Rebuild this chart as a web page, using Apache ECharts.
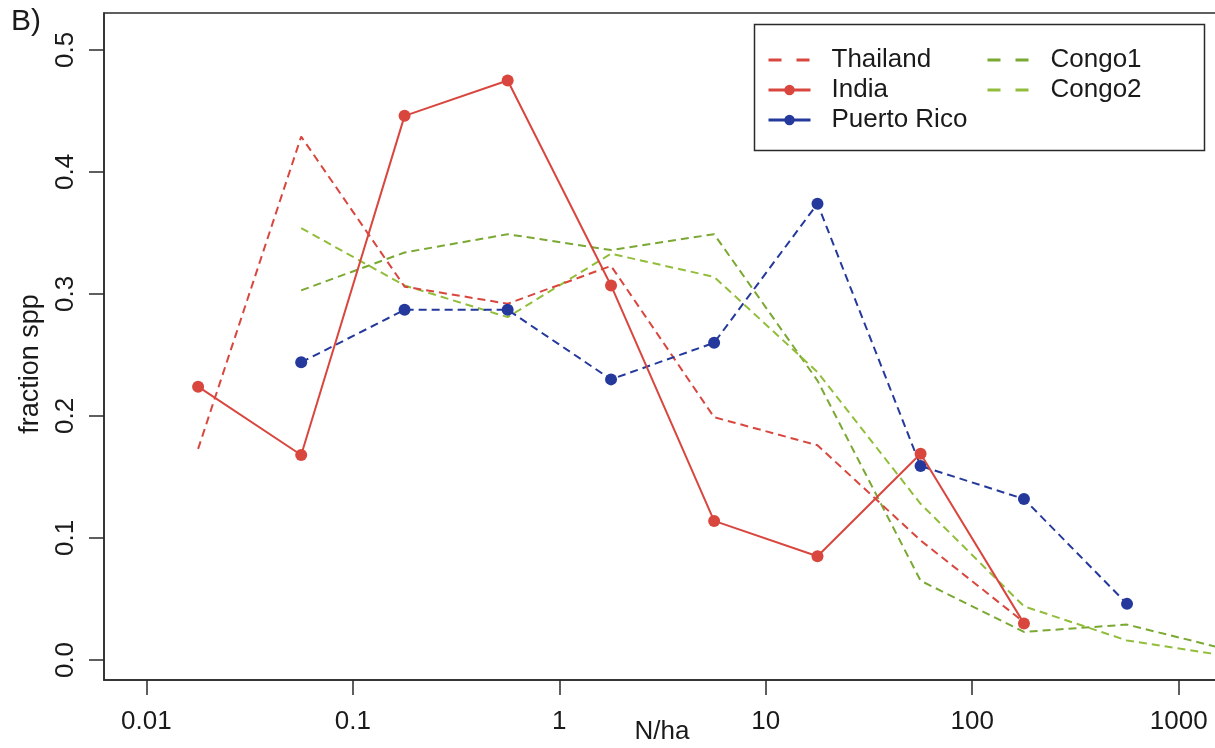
<!DOCTYPE html>
<html>
<head>
<meta charset="utf-8">
<title>fraction spp vs N/ha</title>
<script src="https://cdn.jsdelivr.net/npm/echarts@6/dist/echarts.min.js"></script>
<style>
html, body {
  width: 100%;
  height: 100%;
  padding: 0px;
  margin: 0px;
  background: #fff;
}
#chart {
  width: 1215px;
  height: 748px;
}
</style>
</head>
<body>
<div id="chart"></div>
<script>
// density bins (N/ha), half-decade steps
var nHa = [0.0178, 0.0562, 0.178, 0.562, 1.78, 5.62, 17.8, 56.2, 178, 562, 1778];

var thailand   = [0.173, 0.429, 0.306, 0.292, 0.323, 0.199, 0.176, 0.098, 0.031, null, null];
var india      = [0.224, 0.168, 0.446, 0.475, 0.307, 0.114, 0.085, 0.169, 0.030, null, null];
var puertoRico = [null, 0.244, 0.287, 0.287, 0.230, 0.260, 0.374, 0.159, 0.132, 0.046, null];
var congo1     = [null, 0.303, 0.334, 0.349, 0.336, 0.349, 0.229, 0.065, 0.023, 0.029, 0.008];
var congo2     = [null, 0.354, 0.307, 0.281, 0.333, 0.314, 0.236, 0.128, 0.044, 0.016, 0.003];

var xTicks = [0.01, 0.1, 1, 10, 100, 1000];
var yTicks = [0, 0.1, 0.2, 0.3, 0.4, 0.5];

var RED = '#d9463e';
var BLUE = '#24399b';
var GREEN1 = '#7aa832';
var GREEN2 = '#92bd3a';
var FONT = 'Liberation Sans, Arial, Helvetica, sans-serif';

function pairs(vals) {
  var out = [];
  for (var i = 0; i < vals.length; i++) {
    if (vals[i] != null) out.push([nHa[i], vals[i]]);
  }
  return out;
}

var chart = echarts.init(document.getElementById('chart'));

var legendText = { fontFamily: FONT, fontSize: 26, color: '#1a1a1a', lineHeight: 30, padding: [0, 0, 0, 16] };
// dashed entries: no dot in the legend icon
var dashedItem = { lineStyle: { type: [13, 15] }, itemStyle: { opacity: 0 } };

var option = {
  animation: false,
  backgroundColor: '#fff',
  grid: {
    left: 104,
    top: 13,
    right: -5,
    bottom: 68,
    outerBoundsMode: 'none',
    containLabel: false,
    show: true,
    borderColor: '#2a2a2a',
    borderWidth: 1.5,
    backgroundColor: 'transparent'
  },
  legend: [
    {
      orient: 'vertical',
      left: 762,
      top: 40,
      itemWidth: 42,
      itemHeight: 13,
      itemGap: 0,
      textStyle: legendText,
      lineStyle: { width: 3 },
      data: [
        Object.assign({ name: 'Thailand' }, dashedItem),
        { name: 'India' },
        { name: 'Puerto Rico', lineStyle: { type: 'solid' } }
      ]
    },
    {
      orient: 'vertical',
      left: 981,
      top: 40,
      itemWidth: 42,
      itemHeight: 13,
      itemGap: 0,
      textStyle: legendText,
      lineStyle: { width: 3 },
      data: [
        Object.assign({ name: 'Congo1' }, dashedItem),
        Object.assign({ name: 'Congo2' }, dashedItem)
      ]
    }
  ],
  xAxis: {
    type: 'log',
    logBase: 10,
    min: 0.006232,
    max: 1584.9,
    splitLine: { show: false },
    axisLine: { show: true, onZero: false, lineStyle: { color: '#2a2a2a', width: 1.5 } },
    axisTick: { show: true, length: 15, customValues: xTicks, lineStyle: { color: '#2a2a2a', width: 1.5 } },
    axisLabel: {
      customValues: xTicks,
      margin: 29,
      fontFamily: FONT,
      fontSize: 26,
      color: '#1a1a1a',
      formatter: function (v) { return String(Math.round(v * 100) / 100); }
    }
  },
  yAxis: {
    type: 'value',
    min: -0.0164,
    max: 0.5303,
    splitLine: { show: false },
    axisLine: { show: true, onZero: false, lineStyle: { color: '#2a2a2a', width: 1.5 } },
    axisTick: { show: true, length: 15, customValues: yTicks, lineStyle: { color: '#2a2a2a', width: 1.5 } },
    axisLabel: {
      customValues: yTicks,
      rotate: 90,
      margin: 25,
      fontFamily: FONT,
      fontSize: 26,
      color: '#1a1a1a',
      formatter: function (v) { return v.toFixed(1); }
    }
  },
  graphic: [
    {
      type: 'text',
      left: 11,
      top: 7,
      style: { text: 'B)', fontFamily: FONT, fontSize: 30, fill: '#1a1a1a' }
    },
    {
      type: 'text',
      x: 31,
      y: 364,
      rotation: Math.PI / 2,
      style: { text: 'fraction spp', fontFamily: FONT, fontSize: 27, fill: '#1a1a1a', align: 'center', verticalAlign: 'middle' }
    },
    {
      type: 'text',
      x: 662,
      y: 732,
      style: { text: 'N/ha', fontFamily: FONT, fontSize: 26, fill: '#1a1a1a', align: 'center', verticalAlign: 'middle' }
    },
    {
      type: 'rect',
      shape: { x: 754.5, y: 24.5, width: 450, height: 126 },
      style: { fill: 'none', stroke: '#2a2a2a', lineWidth: 1.5 },
      z: 10
    }
  ],
  series: [
    {
      name: 'Thailand',
      type: 'line',
      data: pairs(thailand),
      symbol: 'none',
      lineStyle: { color: RED, width: 2, type: [8, 5] },
      itemStyle: { color: RED },
      z: 2
    },
    {
      name: 'India',
      type: 'line',
      data: pairs(india),
      symbol: 'circle',
      symbolSize: 12,
      lineStyle: { color: RED, width: 2 },
      itemStyle: { color: RED },
      z: 4
    },
    {
      name: 'Puerto Rico',
      type: 'line',
      data: pairs(puertoRico),
      symbol: 'circle',
      symbolSize: 12,
      lineStyle: { color: BLUE, width: 2, type: [8, 5] },
      itemStyle: { color: BLUE },
      z: 3
    },
    {
      name: 'Congo1',
      type: 'line',
      data: pairs(congo1),
      symbol: 'none',
      lineStyle: { color: GREEN1, width: 2, type: [8, 5] },
      itemStyle: { color: GREEN1 },
      z: 1
    },
    {
      name: 'Congo2',
      type: 'line',
      data: pairs(congo2),
      symbol: 'none',
      lineStyle: { color: GREEN2, width: 2, type: [8, 5] },
      itemStyle: { color: GREEN2 },
      z: 1
    }
  ]
};

chart.setOption(option);
</script>
</body>
</html>
